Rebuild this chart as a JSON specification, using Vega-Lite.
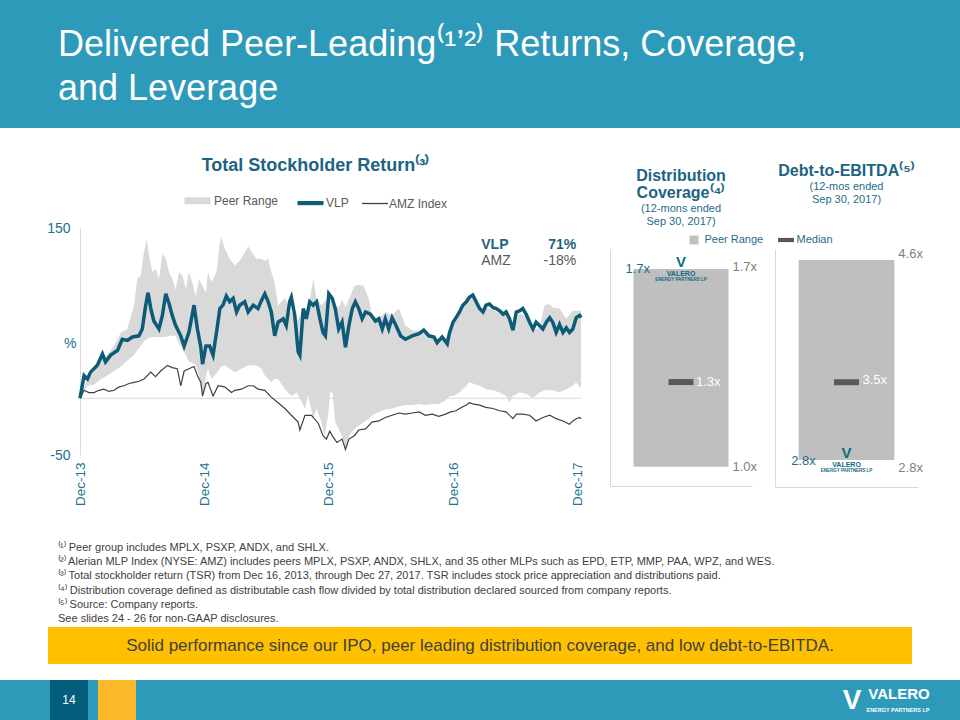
{
  "$schema": "https://vega.github.io/schema/vega-lite/v6.json",
  "padding": 0,
  "background": "#FFFFFF",
  "spacing": 0,
  "bounds": "flush",
  "config": {
    "view": {"stroke": null},
    "font": "Liberation Sans",
    "title": {"font": "Liberation Sans", "subtitleFont": "Liberation Sans"},
    "axis": {"labelFont": "Liberation Sans", "titleFont": "Liberation Sans"},
    "legend": {"labelFont": "Liberation Sans"}
  },
  "resolve": {"scale": {"color": "independent", "fill": "independent"}, "legend": {"color": "independent", "fill": "independent"}},
  "datasets": {
    "vlp": [
      {"date":"2013-12-16","value":0},{"date":"2013-12-28","value":20},{"date":"2014-01-07","value":17},{"date":"2014-01-16","value":23},{"date":"2014-01-26","value":26},{"date":"2014-02-05","value":29},{"date":"2014-02-20","value":39},{"date":"2014-03-01","value":32},{"date":"2014-03-16","value":38},{"date":"2014-04-05","value":42},{"date":"2014-04-19","value":52},{"date":"2014-05-04","value":51},{"date":"2014-05-19","value":54},{"date":"2014-06-07","value":55},{"date":"2014-06-17","value":61},{"date":"2014-06-27","value":82},{"date":"2014-07-04","value":93},{"date":"2014-07-12","value":79},{"date":"2014-07-21","value":68},{"date":"2014-08-05","value":61},{"date":"2014-08-15","value":73},{"date":"2014-08-25","value":92},{"date":"2014-09-04","value":83},{"date":"2014-09-13","value":73},{"date":"2014-09-23","value":64},{"date":"2014-10-08","value":55},{"date":"2014-10-18","value":46},{"date":"2014-11-01","value":58},{"date":"2014-11-16","value":82},{"date":"2014-11-26","value":61},{"date":"2014-12-06","value":45},{"date":"2014-12-11","value":30},{"date":"2014-12-21","value":46},{"date":"2015-01-01","value":46},{"date":"2015-01-11","value":38},{"date":"2015-01-21","value":58},{"date":"2015-01-31","value":79},{"date":"2015-02-09","value":82},{"date":"2015-02-19","value":90},{"date":"2015-03-01","value":85},{"date":"2015-03-11","value":88},{"date":"2015-03-21","value":76},{"date":"2015-03-30","value":82},{"date":"2015-04-14","value":85},{"date":"2015-04-24","value":76},{"date":"2015-05-09","value":82},{"date":"2015-05-23","value":79},{"date":"2015-06-02","value":86},{"date":"2015-06-12","value":92},{"date":"2015-06-22","value":85},{"date":"2015-07-01","value":76},{"date":"2015-07-11","value":55},{"date":"2015-07-21","value":67},{"date":"2015-08-05","value":70},{"date":"2015-08-14","value":64},{"date":"2015-08-24","value":85},{"date":"2015-08-29","value":89},{"date":"2015-09-08","value":73},{"date":"2015-09-18","value":41},{"date":"2015-09-23","value":38},{"date":"2015-10-03","value":79},{"date":"2015-10-12","value":70},{"date":"2015-10-22","value":85},{"date":"2015-11-01","value":82},{"date":"2015-11-11","value":85},{"date":"2015-11-21","value":70},{"date":"2015-11-30","value":58},{"date":"2015-12-07","value":55},{"date":"2015-12-17","value":92},{"date":"2015-12-27","value":88},{"date":"2016-01-05","value":79},{"date":"2016-01-15","value":61},{"date":"2016-01-25","value":67},{"date":"2016-02-04","value":45},{"date":"2016-02-14","value":64},{"date":"2016-02-24","value":79},{"date":"2016-03-04","value":85},{"date":"2016-03-14","value":79},{"date":"2016-03-24","value":70},{"date":"2016-04-03","value":76},{"date":"2016-04-17","value":74},{"date":"2016-05-02","value":68},{"date":"2016-05-12","value":70},{"date":"2016-05-22","value":61},{"date":"2016-05-31","value":70},{"date":"2016-06-10","value":61},{"date":"2016-06-20","value":71},{"date":"2016-06-30","value":65},{"date":"2016-07-15","value":55},{"date":"2016-07-29","value":52},{"date":"2016-08-18","value":55},{"date":"2016-09-07","value":57},{"date":"2016-09-21","value":60},{"date":"2016-10-06","value":55},{"date":"2016-10-21","value":54},{"date":"2016-10-30","value":49},{"date":"2016-11-14","value":54},{"date":"2016-11-29","value":48},{"date":"2016-12-06","value":58},{"date":"2016-12-16","value":67},{"date":"2016-12-25","value":71},{"date":"2017-01-04","value":76},{"date":"2017-01-14","value":82},{"date":"2017-01-24","value":85},{"date":"2017-02-02","value":89},{"date":"2017-02-12","value":91},{"date":"2017-02-22","value":85},{"date":"2017-03-04","value":79},{"date":"2017-03-14","value":76},{"date":"2017-03-23","value":82},{"date":"2017-04-02","value":83},{"date":"2017-04-12","value":80},{"date":"2017-04-22","value":79},{"date":"2017-05-02","value":77},{"date":"2017-05-12","value":74},{"date":"2017-05-21","value":76},{"date":"2017-05-31","value":70},{"date":"2017-06-10","value":60},{"date":"2017-06-20","value":76},{"date":"2017-06-29","value":77},{"date":"2017-07-09","value":79},{"date":"2017-07-19","value":74},{"date":"2017-07-29","value":67},{"date":"2017-08-08","value":61},{"date":"2017-08-17","value":67},{"date":"2017-08-27","value":64},{"date":"2017-09-06","value":61},{"date":"2017-09-16","value":67},{"date":"2017-09-26","value":71},{"date":"2017-10-05","value":67},{"date":"2017-10-15","value":58},{"date":"2017-10-25","value":65},{"date":"2017-11-04","value":58},{"date":"2017-11-14","value":62},{"date":"2017-11-23","value":58},{"date":"2017-12-03","value":61},{"date":"2017-12-13","value":71},{"date":"2017-12-23","value":73},{"date":"2017-12-27","value":71}
    ],
    "amz": [
      {"date":"2013-12-16","value":0},{"date":"2013-12-28","value":7},{"date":"2014-01-11","value":5},{"date":"2014-01-26","value":5},{"date":"2014-02-10","value":7},{"date":"2014-02-24","value":8},{"date":"2014-03-11","value":6},{"date":"2014-03-26","value":7},{"date":"2014-04-10","value":10},{"date":"2014-04-24","value":11},{"date":"2014-05-09","value":13},{"date":"2014-05-24","value":14},{"date":"2014-06-07","value":15},{"date":"2014-06-22","value":17},{"date":"2014-07-12","value":23},{"date":"2014-07-26","value":19},{"date":"2014-08-10","value":24},{"date":"2014-08-30","value":29},{"date":"2014-09-13","value":27},{"date":"2014-09-28","value":26},{"date":"2014-10-08","value":11},{"date":"2014-10-18","value":24},{"date":"2014-11-01","value":26},{"date":"2014-11-16","value":28},{"date":"2014-11-26","value":20},{"date":"2014-12-06","value":14},{"date":"2014-12-11","value":2},{"date":"2014-12-21","value":13},{"date":"2014-12-27","value":14},{"date":"2015-01-11","value":2},{"date":"2015-01-26","value":11},{"date":"2015-02-14","value":10},{"date":"2015-03-06","value":5},{"date":"2015-03-16","value":7},{"date":"2015-04-04","value":8},{"date":"2015-04-24","value":11},{"date":"2015-05-09","value":11},{"date":"2015-05-23","value":8},{"date":"2015-06-12","value":7},{"date":"2015-07-01","value":1},{"date":"2015-07-21","value":-4},{"date":"2015-08-10","value":-9},{"date":"2015-08-29","value":-15},{"date":"2015-09-18","value":-21},{"date":"2015-09-23","value":-28},{"date":"2015-10-08","value":-15},{"date":"2015-10-27","value":-15},{"date":"2015-11-16","value":-22},{"date":"2015-11-30","value":-33},{"date":"2015-12-10","value":-36},{"date":"2015-12-20","value":-29},{"date":"2015-12-27","value":-33},{"date":"2016-01-10","value":-39},{"date":"2016-01-25","value":-36},{"date":"2016-02-04","value":-45},{"date":"2016-02-14","value":-36},{"date":"2016-03-01","value":-33},{"date":"2016-03-14","value":-28},{"date":"2016-04-03","value":-27},{"date":"2016-04-22","value":-21},{"date":"2016-05-12","value":-20},{"date":"2016-05-31","value":-17},{"date":"2016-06-20","value":-15},{"date":"2016-07-10","value":-13},{"date":"2016-07-29","value":-14},{"date":"2016-08-18","value":-13},{"date":"2016-09-07","value":-12},{"date":"2016-09-26","value":-15},{"date":"2016-10-16","value":-14},{"date":"2016-11-04","value":-16},{"date":"2016-11-24","value":-14},{"date":"2016-12-09","value":-12},{"date":"2016-12-25","value":-11},{"date":"2017-01-04","value":-9},{"date":"2017-01-24","value":-6},{"date":"2017-02-02","value":-4},{"date":"2017-02-12","value":-5},{"date":"2017-03-04","value":-6},{"date":"2017-03-23","value":-8},{"date":"2017-04-12","value":-9},{"date":"2017-05-02","value":-11},{"date":"2017-05-21","value":-12},{"date":"2017-06-10","value":-18},{"date":"2017-06-20","value":-14},{"date":"2017-07-09","value":-14},{"date":"2017-07-29","value":-15},{"date":"2017-08-17","value":-20},{"date":"2017-09-06","value":-17},{"date":"2017-09-26","value":-15},{"date":"2017-10-15","value":-18},{"date":"2017-11-04","value":-20},{"date":"2017-11-23","value":-23},{"date":"2017-12-03","value":-20},{"date":"2017-12-13","value":-18},{"date":"2017-12-23","value":-17},{"date":"2017-12-27","value":-18}
    ],
    "peer": [
      {"date":"2013-12-16","low":0,"high":0},{"date":"2014-01-07","low":11,"high":17},{"date":"2014-01-26","low":12,"high":23},{"date":"2014-02-15","low":17,"high":35},{"date":"2014-03-06","low":20,"high":38},{"date":"2014-03-26","low":24,"high":46},{"date":"2014-04-15","low":28,"high":58},{"date":"2014-05-04","low":33,"high":61},{"date":"2014-05-24","low":38,"high":82},{"date":"2014-06-02","low":42,"high":105},{"date":"2014-06-12","low":46,"high":108},{"date":"2014-06-22","low":50,"high":129},{"date":"2014-06-30","low":52,"high":140},{"date":"2014-07-07","low":53,"high":125},{"date":"2014-07-17","low":54,"high":111},{"date":"2014-07-26","low":54,"high":114},{"date":"2014-08-05","low":54,"high":105},{"date":"2014-08-15","low":54,"high":127},{"date":"2014-08-25","low":54,"high":123},{"date":"2014-09-04","low":55,"high":111},{"date":"2014-09-13","low":55,"high":105},{"date":"2014-09-23","low":55,"high":96},{"date":"2014-10-03","low":48,"high":111},{"date":"2014-10-13","low":43,"high":108},{"date":"2014-10-23","low":38,"high":96},{"date":"2014-11-01","low":32,"high":111},{"date":"2014-11-11","low":31,"high":102},{"date":"2014-11-21","low":29,"high":90},{"date":"2014-12-01","low":20,"high":105},{"date":"2014-12-11","low":1,"high":99},{"date":"2014-12-21","low":20,"high":93},{"date":"2014-12-27","low":26,"high":111},{"date":"2015-01-06","low":17,"high":102},{"date":"2015-01-21","low":22,"high":111},{"date":"2015-01-31","low":26,"high":137},{"date":"2015-02-04","low":28,"high":142},{"date":"2015-02-14","low":29,"high":132},{"date":"2015-03-01","low":26,"high":123},{"date":"2015-03-16","low":23,"high":117},{"date":"2015-04-04","low":26,"high":123},{"date":"2015-04-24","low":29,"high":134},{"date":"2015-05-04","low":29,"high":129},{"date":"2015-05-18","low":29,"high":123},{"date":"2015-06-02","low":26,"high":123},{"date":"2015-06-12","low":20,"high":121},{"date":"2015-06-22","low":17,"high":123},{"date":"2015-07-01","low":14,"high":111},{"date":"2015-07-11","low":17,"high":102},{"date":"2015-07-21","low":17,"high":82},{"date":"2015-08-10","low":8,"high":88},{"date":"2015-08-29","low":2,"high":76},{"date":"2015-09-13","low":5,"high":67},{"date":"2015-09-28","low":-3,"high":76},{"date":"2015-10-08","low":-9,"high":76},{"date":"2015-10-17","low":3,"high":76},{"date":"2015-11-01","low":-18,"high":105},{"date":"2015-11-11","low":-9,"high":88},{"date":"2015-11-25","low":-21,"high":82},{"date":"2015-12-05","low":-33,"high":85},{"date":"2015-12-15","low":-15,"high":88},{"date":"2015-12-21","low":5,"high":90},{"date":"2015-12-28","low":5,"high":88},{"date":"2016-01-05","low":-21,"high":82},{"date":"2016-01-15","low":-27,"high":80},{"date":"2016-01-25","low":-33,"high":87},{"date":"2016-02-04","low":-48,"high":80},{"date":"2016-02-14","low":-33,"high":87},{"date":"2016-03-01","low":-27,"high":99},{"date":"2016-03-14","low":-24,"high":100},{"date":"2016-03-29","low":-21,"high":99},{"date":"2016-04-13","low":-18,"high":87},{"date":"2016-04-22","low":-15,"high":73},{"date":"2016-05-12","low":-12,"high":70},{"date":"2016-05-31","low":-10,"high":76},{"date":"2016-06-20","low":-9,"high":73},{"date":"2016-07-10","low":-7,"high":79},{"date":"2016-07-29","low":-6,"high":64},{"date":"2016-08-18","low":-6,"high":60},{"date":"2016-09-07","low":-5,"high":59},{"date":"2016-09-26","low":-6,"high":60},{"date":"2016-10-16","low":-5,"high":55},{"date":"2016-11-04","low":-5,"high":52},{"date":"2016-11-24","low":-2,"high":52},{"date":"2016-12-06","low":2,"high":60},{"date":"2016-12-16","low":2,"high":64},{"date":"2017-01-04","low":5,"high":74},{"date":"2017-01-24","low":11,"high":83},{"date":"2017-02-02","low":14,"high":87},{"date":"2017-02-12","low":13,"high":89},{"date":"2017-03-04","low":11,"high":77},{"date":"2017-03-23","low":8,"high":80},{"date":"2017-04-12","low":7,"high":78},{"date":"2017-05-02","low":5,"high":75},{"date":"2017-05-21","low":2,"high":74},{"date":"2017-05-31","low":-4,"high":68},{"date":"2017-06-10","low":2,"high":60},{"date":"2017-06-29","low":5,"high":75},{"date":"2017-07-19","low":4,"high":72},{"date":"2017-08-08","low":0,"high":60},{"date":"2017-08-27","low":5,"high":62},{"date":"2017-09-11","low":7,"high":82},{"date":"2017-09-26","low":7,"high":83},{"date":"2017-10-05","low":7,"high":80},{"date":"2017-10-25","low":5,"high":79},{"date":"2017-11-14","low":8,"high":70},{"date":"2017-12-03","low":11,"high":77},{"date":"2017-12-13","low":14,"high":77},{"date":"2017-12-23","low":10,"high":77},{"date":"2017-12-27","low":10,"high":78}
    ],
    "tsr": [
      {"series":"VLP","tsr":"71%"},
      {"series":"AMZ","tsr":"-18%"}
    ],
    "coverage": [{"metric":"Distribution Coverage","low":1.0,"high":1.7,"median":1.3,"vlp":1.7}],
    "debt": [{"metric":"Debt-to-EBITDA","low":2.8,"high":4.6,"median":3.5,"vlp":2.8}]
  },
  "vconcat": [
    {
      "width": 960, "height": 128,
      "view": {"fill": "#2E9AB9", "stroke": null},
      "title": {
        "text": ["Delivered Peer-Leading⁽¹’²⁾ Returns, Coverage,", "and Leverage"],
        "anchor": "start", "frame": "group", "orient": "top", "offset": -108, "dx": 58,
        "baseline": "top", "lineHeight": 44, "fontSize": 36, "fontWeight": "normal", "color": "#FFFFFF"
      },
      "data": {"values": []},
      "mark": "point"
    },
    {"width": 960, "height": 100, "data": {"values": []}, "mark": "point"},
    {
      "hconcat": [
        {"width": 80, "height": 10, "data": {"values": []}, "mark": "point"},
        {
          "width": 501, "height": 227,
          "title": {"text": "Total Stockholder Return⁽³⁾", "fontSize": 18, "fontWeight": "bold", "color": "#1C6481", "anchor": "middle", "frame": "group", "dx": -15, "offset": 9},
          "layer": [
            {
              "data": {"values": [{}]},
              "mark": {"type": "rule", "color": "#D9D9D9", "strokeWidth": 1},
              "encoding": {"y": {"datum": 0, "type": "quantitative"}}
            },
            {
              "data": {"name": "peer"},
              "mark": {"type": "area", "opacity": 1},
              "encoding": {
                "x": {
                  "field": "date", "type": "temporal",
                  "scale": {"domain": [{"year": 2013, "month": 12, "date": 16}, {"year": 2017, "month": 12, "date": 27}], "nice": false},
                  "axis": {
                    "values": [{"year": 2013, "month": 12, "date": 16}, {"year": 2014, "month": 12, "date": 16}, {"year": 2015, "month": 12, "date": 16}, {"year": 2016, "month": 12, "date": 16}, {"year": 2017, "month": 12, "date": 16}],
                    "format": "%b-%y", "labelAngle": -90, "labelColor": "#23708F", "labelFontSize": 13.5,
                    "labelPadding": 7, "ticks": false, "domain": false, "grid": false, "title": null,
                    "labelFlush": false, "labelOverlap": false, "labelBound": false
                  }
                },
                "y": {
                  "field": "low", "type": "quantitative",
                  "scale": {"domain": [-50, 150], "nice": false, "zero": false},
                  "axis": {
                    "values": [-50, 150], "labelExpr": "replace(datum.label, '−', '-')",
                    "title": "%", "titleAngle": 0, "titleAlign": "right", "titleBaseline": "middle",
                    "titleX": -4, "titleY": 115, "titleColor": "#23708F", "titleFontSize": 14, "titleFontWeight": "normal",
                    "labelColor": "#23708F", "labelFontSize": 14, "labelPadding": 10, "ticks": false, "grid": false,
                    "domainColor": "#D9D9D9"
                  }
                },
                "y2": {"field": "high"},
                "color": {
                  "datum": "Peer Range", "type": "nominal",
                  "scale": {"domain": ["Peer Range", "VLP", "AMZ Index"], "range": ["#D9D9D9", "#0E5B78", "#404040"]},
                  "legend": {
                    "orient": "none", "legendX": 101, "legendY": -44, "direction": "horizontal", "title": null,
                    "symbolType": "stroke", "symbolSize": 676, "labelFontSize": 12, "labelColor": "#595959",
                    "labelOffset": 0, "columnPadding": 10, "padding": 0
                  }
                },
                "strokeWidth": {
                  "datum": "Peer Range", "type": "ordinal",
                  "scale": {"type": "point", "domain": ["Peer Range", "VLP", "AMZ Index"], "range": [7, 1.3], "padding": 0},
                  "legend": {
                    "orient": "none", "legendX": 101, "legendY": -44, "direction": "horizontal", "title": null,
                    "symbolType": "stroke", "symbolSize": 676, "labelFontSize": 12, "labelColor": "#595959",
                    "labelOffset": 0, "columnPadding": 10, "padding": 0
                  }
                }
              }
            },
            {
              "data": {"name": "amz"},
              "mark": {"type": "line", "strokeWidth": 1.2},
              "encoding": {
                "x": {"field": "date", "type": "temporal"},
                "y": {"field": "value", "type": "quantitative"},
                "color": {"datum": "AMZ Index", "type": "nominal"}
              }
            },
            {
              "data": {"name": "vlp"},
              "mark": {"type": "line", "strokeWidth": 3.5},
              "encoding": {
                "x": {"field": "date", "type": "temporal"},
                "y": {"field": "value", "type": "quantitative"},
                "color": {"datum": "VLP", "type": "nominal"}
              }
            },
            {
              "data": {"name": "tsr"},
              "transform": [{"filter": "datum.series === 'VLP'"}],
              "layer": [
                {"mark": {"type": "text", "align": "left", "baseline": "middle", "fontSize": 14, "fontWeight": "bold", "color": "#1C6481"},
                 "encoding": {"text": {"field": "series"}, "x": {"datum": {"year": 2017, "month": 3, "date": 9}, "type": "temporal"}, "y": {"datum": 135, "type": "quantitative"}}},
                {"mark": {"type": "text", "align": "right", "baseline": "middle", "fontSize": 14, "fontWeight": "bold", "color": "#1C6481"},
                 "encoding": {"text": {"field": "tsr"}, "x": {"datum": {"year": 2017, "month": 12, "date": 13}, "type": "temporal"}, "y": {"datum": 135, "type": "quantitative"}}}
              ]
            },
            {
              "data": {"name": "tsr"},
              "transform": [{"filter": "datum.series === 'AMZ'"}],
              "layer": [
                {"mark": {"type": "text", "align": "left", "baseline": "middle", "fontSize": 14, "color": "#595959"},
                 "encoding": {"text": {"field": "series"}, "x": {"datum": {"year": 2017, "month": 3, "date": 9}, "type": "temporal"}, "y": {"datum": 121, "type": "quantitative"}}},
                {"mark": {"type": "text", "align": "right", "baseline": "middle", "fontSize": 14, "color": "#595959"},
                 "encoding": {"text": {"field": "tsr"}, "x": {"datum": {"year": 2017, "month": 12, "date": 13}, "type": "temporal"}, "y": {"datum": 121, "type": "quantitative"}}}
              ]
            }
          ]
        },
        {"width": 29, "height": 10, "data": {"values": []}, "mark": "point"},
        {
          "vconcat": [
            {"width": 142, "height": 21, "data": {"values": []}, "mark": "point"},
            {
              "width": 142, "height": 237,
              "title": {
                "text": ["Distribution", "Coverage⁽⁴⁾"], "subtitle": ["(12-mons ended", "Sep 30, 2017)"],
                "fontSize": 16, "fontWeight": "bold", "lineHeight": 17, "color": "#1C6481",
                "subtitleFontSize": 11, "subtitleLineHeight": 13, "subtitleColor": "#1F6C89", "subtitlePadding": 2,
                "anchor": "middle", "frame": "group", "offset": 5
              },
              "data": {"name": "coverage"},
              "layer": [
                {
                  "mark": {"type": "bar", "opacity": 1},
                  "encoding": {
                    "x": {"field": "metric", "type": "nominal", "scale": {"paddingOuter": 0.247, "paddingInner": 0},
                          "axis": {"labels": false, "ticks": false, "title": null, "domainColor": "#D9D9D9"}},
                    "y": {"field": "low", "type": "quantitative", "scale": {"domain": [0.932, 1.771], "nice": false, "zero": false},
                          "axis": {"labels": false, "ticks": false, "grid": false, "title": null, "domainColor": "#D9D9D9"}},
                    "y2": {"field": "high"},
                    "fill": {
                      "datum": "Peer Range", "type": "nominal",
                      "scale": {"domain": ["Peer Range", "Median"], "range": ["#BFBFBF", "#595959"]},
                      "legend": {
                        "orient": "none", "legendX": 76, "legendY": -17, "direction": "horizontal", "title": null,
                        "symbolSize": 256, "symbolOpacity": 1, "labelFontSize": 11, "labelColor": "#1F6C89", "labelOffset": 2.5,
                        "columnPadding": 14, "padding": 0, "symbolStrokeWidth": 0
                      }
                    }
                  }
                },
                {
                  "mark": {"type": "tick", "orient": "horizontal", "size": 25, "thickness": 6, "opacity": 1},
                  "encoding": {
                    "x": {"field": "metric", "type": "nominal"},
                    "y": {"field": "median", "type": "quantitative"},
                    "fill": {"datum": "Median", "type": "nominal"}
                  }
                },
                {
                  "mark": {"type": "point", "opacity": 0, "filled": true},
                  "encoding": {
                    "x": {"field": "metric", "type": "nominal"},
                    "y": {"field": "median", "type": "quantitative"},
                    "fill": {"datum": "Median", "type": "nominal"},
                    "shape": {
                      "datum": "Median", "type": "nominal",
                      "scale": {"domain": ["Peer Range", "Median"], "range": ["M-0.56,-0.56H0.56V0.56H-0.56Z", "M-1,-0.26H1V0.26H-1Z"]},
                      "legend": {
                        "orient": "none", "legendX": 76, "legendY": -17, "direction": "horizontal", "title": null,
                        "symbolSize": 256, "symbolOpacity": 1, "labelFontSize": 11, "labelColor": "#1F6C89", "labelOffset": 2.5,
                        "columnPadding": 14, "padding": 0, "symbolStrokeWidth": 0
                      }
                    }
                  }
                },
                {
                  "mark": {"type": "text", "align": "left", "baseline": "middle", "dx": 4, "dy": -2, "fontSize": 13, "color": "#7F7F7F", "text": {"expr": "format(datum.high, '.1f') + 'x'"}},
                  "encoding": {"x": {"field": "metric", "type": "nominal", "bandPosition": 1}, "y": {"field": "high", "type": "quantitative"}}
                },
                {
                  "mark": {"type": "text", "align": "left", "baseline": "middle", "dx": 4, "dy": 0, "fontSize": 13, "color": "#7F7F7F", "text": {"expr": "format(datum.low, '.1f') + 'x'"}},
                  "encoding": {"x": {"field": "metric", "type": "nominal", "bandPosition": 1}, "y": {"field": "low", "type": "quantitative"}}
                },
                {
                  "mark": {"type": "text", "align": "left", "baseline": "middle", "dx": 15, "fontSize": 13, "color": "#FFFFFF", "text": {"expr": "format(datum.median, '.1f') + 'x'"}},
                  "encoding": {"x": {"field": "metric", "type": "nominal"}, "y": {"field": "median", "type": "quantitative"}}
                },
                {
                  "mark": {"type": "text", "align": "left", "baseline": "middle", "dx": -8, "fontSize": 13, "color": "#1F6C89", "text": {"expr": "format(datum.vlp, '.1f') + 'x'"}},
                  "encoding": {"x": {"field": "metric", "type": "nominal", "bandPosition": 0}, "y": {"field": "vlp", "type": "quantitative"}}
                },
                {
                  "mark": {"type": "text", "align": "center", "baseline": "middle", "dy": -7, "fontSize": 15, "fontWeight": "bold", "color": "#0E6A80", "text": "V"},
                  "encoding": {"x": {"field": "metric", "type": "nominal"}, "y": {"field": "vlp", "type": "quantitative"}}
                },
                {
                  "mark": {"type": "text", "align": "center", "baseline": "middle", "dy": 5, "fontSize": 7, "fontWeight": "bold", "color": "#0E6A80", "text": "VALERO"},
                  "encoding": {"x": {"field": "metric", "type": "nominal"}, "y": {"field": "vlp", "type": "quantitative"}}
                },
                {
                  "mark": {"type": "text", "align": "center", "baseline": "middle", "dy": 11, "fontSize": 4.5, "fontWeight": "bold", "color": "#0E6A80", "text": "ENERGY PARTNERS LP"},
                  "encoding": {"x": {"field": "metric", "type": "nominal"}, "y": {"field": "vlp", "type": "quantitative"}}
                }
              ]
            }
          ],
          "spacing": 0, "bounds": "flush",
          "resolve": {"scale": {"color": "independent", "fill": "independent", "shape": "independent"}, "legend": {"color": "independent", "fill": "independent", "shape": "independent"}}
        },
        {"width": 165, "height": 10, "data": {"values": []}, "mark": "point"},
        {
          "vconcat": [
            {"width": 143, "height": 21, "data": {"values": []}, "mark": "point"},
            {
              "width": 143, "height": 238,
              "title": {
                "text": "Debt-to-EBITDA⁽⁵⁾", "subtitle": ["(12-mos ended", "Sep 30, 2017)"],
                "fontSize": 16, "fontWeight": "bold", "lineHeight": 17, "color": "#1C6481",
                "subtitleFontSize": 11, "subtitleLineHeight": 13, "subtitleColor": "#1F6C89", "subtitlePadding": 2,
                "anchor": "middle", "frame": "group", "offset": 43
              },
              "data": {"name": "debt"},
              "layer": [
                {
                  "mark": {"type": "bar", "opacity": 1},
                  "encoding": {
                    "x": {"field": "metric", "type": "nominal", "scale": {"paddingOuter": 0.247, "paddingInner": 0},
                          "axis": {"labels": false, "ticks": false, "title": null, "domainColor": "#D9D9D9"}},
                    "y": {"field": "low", "type": "quantitative", "scale": {"domain": [2.557, 4.699], "nice": false, "zero": false},
                          "axis": {"labels": false, "ticks": false, "grid": false, "title": null, "domainColor": "#D9D9D9"}},
                    "y2": {"field": "high"},
                    "fill": {
                      "datum": "Peer Range", "type": "nominal",
                      "scale": {"domain": ["Peer Range", "Median"], "range": ["#BFBFBF", "#595959"]},
                      "legend": null
                    }
                  }
                },
                {
                  "mark": {"type": "tick", "orient": "horizontal", "size": 25, "thickness": 6, "opacity": 1},
                  "encoding": {
                    "x": {"field": "metric", "type": "nominal"},
                    "y": {"field": "median", "type": "quantitative"},
                    "fill": {"datum": "Median", "type": "nominal"}
                  }
                },
                {
                  "mark": {"type": "text", "align": "left", "baseline": "middle", "dx": 4, "dy": -6, "fontSize": 13, "color": "#7F7F7F", "text": {"expr": "format(datum.high, '.1f') + 'x'"}},
                  "encoding": {"x": {"field": "metric", "type": "nominal", "bandPosition": 1}, "y": {"field": "high", "type": "quantitative"}}
                },
                {
                  "mark": {"type": "text", "align": "left", "baseline": "middle", "dx": 4, "dy": 8, "fontSize": 13, "color": "#7F7F7F", "text": {"expr": "format(datum.low, '.1f') + 'x'"}},
                  "encoding": {"x": {"field": "metric", "type": "nominal", "bandPosition": 1}, "y": {"field": "low", "type": "quantitative"}}
                },
                {
                  "mark": {"type": "text", "align": "left", "baseline": "middle", "dx": 16, "dy": -2, "fontSize": 13, "color": "#FFFFFF", "text": {"expr": "format(datum.median, '.1f') + 'x'"}},
                  "encoding": {"x": {"field": "metric", "type": "nominal"}, "y": {"field": "median", "type": "quantitative"}}
                },
                {
                  "mark": {"type": "text", "align": "left", "baseline": "middle", "dx": -7.5, "dy": 1, "fontSize": 13, "color": "#1F6C89", "text": {"expr": "format(datum.vlp, '.1f') + 'x'"}},
                  "encoding": {"x": {"field": "metric", "type": "nominal", "bandPosition": 0}, "y": {"field": "vlp", "type": "quantitative"}}
                },
                {
                  "mark": {"type": "text", "align": "center", "baseline": "middle", "dy": -7, "fontSize": 15, "fontWeight": "bold", "color": "#0E6A80", "text": "V"},
                  "encoding": {"x": {"field": "metric", "type": "nominal"}, "y": {"field": "vlp", "type": "quantitative"}}
                },
                {
                  "mark": {"type": "text", "align": "center", "baseline": "middle", "dy": 5, "fontSize": 7, "fontWeight": "bold", "color": "#0E6A80", "text": "VALERO"},
                  "encoding": {"x": {"field": "metric", "type": "nominal"}, "y": {"field": "vlp", "type": "quantitative"}}
                },
                {
                  "mark": {"type": "text", "align": "center", "baseline": "middle", "dy": 11, "fontSize": 4.5, "fontWeight": "bold", "color": "#0E6A80", "text": "ENERGY PARTNERS LP"},
                  "encoding": {"x": {"field": "metric", "type": "nominal"}, "y": {"field": "vlp", "type": "quantitative"}}
                }
              ]
            }
          ],
          "spacing": 0, "bounds": "flush",
          "resolve": {"scale": {"color": "independent", "fill": "independent", "shape": "independent"}, "legend": {"color": "independent", "fill": "independent", "shape": "independent"}}
        }
      ],
      "spacing": 0, "bounds": "flush",
      "resolve": {"scale": {"color": "independent", "fill": "independent", "shape": "independent", "strokeWidth": "independent"}, "legend": {"color": "independent", "fill": "independent", "shape": "independent", "strokeWidth": "independent"}}
    },
    {"width": 960, "height": 312, "data": {"values": []}, "mark": "point"},
    {
      "hconcat": [
        {"width": 58, "height": 80, "data": {"values": []}, "mark": "point"},
        {
          "width": 860, "height": 80,
          "title": {
            "text": [
              "⁽¹⁾ Peer group includes MPLX, PSXP, ANDX, and SHLX.",
              "⁽²⁾ Alerian MLP Index (NYSE: AMZ) includes peers MPLX, PSXP, ANDX, SHLX, and 35 other MLPs such as EPD, ETP, MMP, PAA, WPZ, and WES.",
              "⁽³⁾ Total stockholder return (TSR) from Dec 16, 2013, through Dec 27, 2017. TSR includes stock price appreciation and distributions paid.",
              "⁽⁴⁾ Distribution coverage defined as distributable cash flow divided by total distribution declared sourced from company reports.",
              "⁽⁵⁾ Source: Company reports.",
              "See slides 24 - 26 for non-GAAP disclosures."
            ],
            "anchor": "start", "frame": "group", "orient": "top", "offset": -84,
            "baseline": "top", "fontSize": 11, "lineHeight": 14.2, "fontWeight": "normal", "color": "#404040"
          },
          "data": {"values": []},
          "mark": "point"
        }
      ],
      "spacing": 0, "bounds": "flush"
    },
    {"width": 960, "height": 87, "data": {"values": []}, "mark": "point"},
    {
      "hconcat": [
        {"width": 48, "height": 37, "data": {"values": []}, "mark": "point"},
        {
          "width": 864, "height": 37,
          "view": {"fill": "#FFC000", "stroke": null},
          "data": {"values": [{}]},
          "mark": {"type": "text", "text": "Solid performance since our IPO, peer leading distribution coverage, and low debt-to-EBITDA.", "fontSize": 17, "color": "#404040", "align": "center", "baseline": "middle"}
        }
      ],
      "spacing": 0, "bounds": "flush"
    },
    {"width": 960, "height": 53, "data": {"values": []}, "mark": "point"},
    {
      "hconcat": [
        {"width": 50, "height": 40, "view": {"fill": "#2E9AB9", "stroke": null}, "data": {"values": []}, "mark": "point"},
        {"width": 38, "height": 40, "view": {"fill": "#035E7B", "stroke": null}, "data": {"values": [{}]},
         "mark": {"type": "text", "text": "14", "color": "#FFFFFF", "fontSize": 12, "align": "center", "baseline": "middle"}},
        {"width": 10, "height": 40, "view": {"fill": "#2E9AB9", "stroke": null}, "data": {"values": []}, "mark": "point"},
        {"width": 38, "height": 40, "view": {"fill": "#FBB829", "stroke": null}, "data": {"values": []}, "mark": "point"},
        {"width": 699, "height": 40, "view": {"fill": "#2E9AB9", "stroke": null}, "data": {"values": []}, "mark": "point"},
        {"width": 100, "height": 40, "view": {"fill": "#2E9AB9", "stroke": null}, "data": {"values": [{}]},
         "layer": [
           {"mark": {"type": "text", "text": "V", "color": "#FFFFFF", "fontSize": 28, "fontWeight": "bold", "align": "center", "baseline": "middle", "dx": -33, "dy": 1}},
           {"mark": {"type": "text", "text": "VALERO", "color": "#FFFFFF", "fontSize": 15, "fontWeight": "bold", "align": "center", "baseline": "middle", "dx": 14, "dy": -6}},
           {"mark": {"type": "text", "text": "ENERGY PARTNERS LP", "color": "#FFFFFF", "fontSize": 5.5, "fontWeight": "bold", "align": "center", "baseline": "middle", "dx": 13, "dy": 10}}
         ]},
        {"width": 25, "height": 40, "view": {"fill": "#2E9AB9", "stroke": null}, "data": {"values": []}, "mark": "point"}
      ],
      "spacing": 0, "bounds": "flush"
    }
  ]
}
